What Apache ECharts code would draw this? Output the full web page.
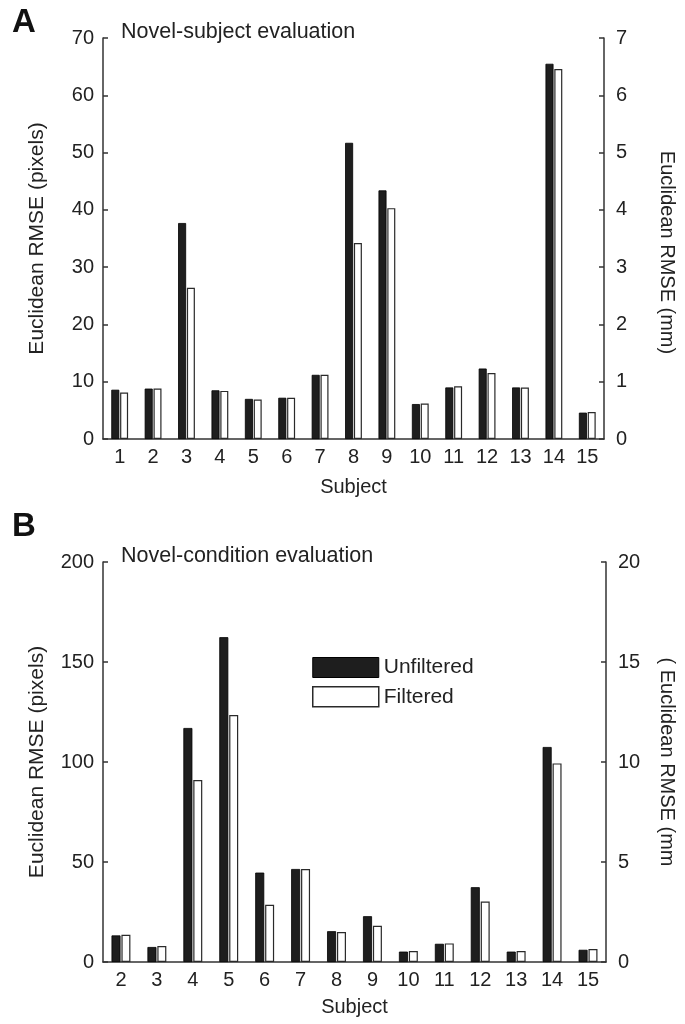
<!DOCTYPE html>
<html>
<head>
<meta charset="utf-8">
<script src="https://cdn.jsdelivr.net/npm/echarts@6/dist/echarts.min.js"></script>
<style>
html,body{margin:0;padding:0;background:#fff;}
#chart{width:685px;height:1024px;}
</style>
</head>
<body>
<div id="chart"></div>
<script>
// ---- Panel A: novel-subject evaluation ----
var aSubjects = ['1','2','3','4','5','6','7','8','9','10','11','12','13','14','15'];
var aUnfiltered = [8.6, 8.8, 37.7, 8.5, 7.0, 7.2, 11.2, 51.7, 43.4, 6.1, 9.0, 12.3, 9.0, 65.5, 4.6];
var aFiltered   = [8.1, 8.8, 26.4, 8.4, 6.9, 7.2, 11.2, 34.2, 40.3, 6.2, 9.2, 11.5, 9.0, 64.6, 4.7];
var aLeftTicks  = [0, 10, 20, 30, 40, 50, 60, 70];
var aRightTicks = [0, 1, 2, 3, 4, 5, 6, 7];

// ---- Panel B: novel-condition evaluation ----
var bSubjects = ['2','3','4','5','6','7','8','9','10','11','12','13','14','15'];
var bUnfiltered = [13.3, 7.5, 117, 162.4, 44.7, 46.5, 15.4, 22.9, 5.2, 9.1, 37.4, 5.2, 107.5, 6.1];
var bFiltered   = [13.6, 8.0, 91.0, 123.5, 28.6, 46.5, 15.0, 18.1, 5.5, 9.3, 30.2, 5.5, 99.3, 6.5];
var bLeftTicks  = [0, 50, 100, 150, 200];
var bRightTicks = [0, 5, 10, 15, 20];

var FONT = '"Liberation Sans", Arial, sans-serif';
var TXT = '#222';

function yAx(grid, ticks, pos, name, gap, extra) {
  var o = {
    type: 'value', gridIndex: grid, position: pos,
    min: ticks[0], max: ticks[ticks.length - 1], interval: ticks[1] - ticks[0],
    name: name, nameLocation: 'middle', nameGap: gap,
    nameRotate: pos === 'left' ? 90 : -90,
    nameTextStyle: { fontFamily: FONT, fontSize: 21, color: TXT },
    axisLine: { show: true, lineStyle: { color: '#333', width: 1.5 } },
    axisTick: { show: true, inside: true, length: 5, lineStyle: { color: '#333', width: 1.5 } },
    axisLabel: { fontFamily: FONT, fontSize: 20, color: TXT, margin: pos === 'left' ? 9 : 12 },
    splitLine: { show: false }
  };
  if (extra) { for (var k in extra) o[k] = extra[k]; }
  return o;
}

function xAx(grid, cats, gap) {
  return {
    type: 'category', gridIndex: grid, data: cats,
    name: 'Subject', nameLocation: 'middle', nameGap: gap,
    nameTextStyle: { fontFamily: FONT, fontSize: 20, color: TXT },
    axisLine: { show: true, lineStyle: { color: '#333', width: 1.5 } },
    axisTick: { show: false },
    axisLabel: { fontFamily: FONT, fontSize: 20, color: TXT, margin: 8, interval: 0 }
  };
}

var blackStyle = { color: '#1e1e1e', borderColor: '#000', borderWidth: 0.8 };
var whiteStyle = { color: '#ffffff', borderColor: '#2a2a2a', borderWidth: 1.2 };

var chart = echarts.init(document.getElementById('chart'), null, { renderer: 'canvas' });
chart.setOption({
  animation: false,
  backgroundColor: '#fff',
  title: [
    { text: 'A', left: 12, top: 6, padding: 0, textStyle: { fontFamily: FONT, fontSize: 33, fontWeight: 'bold', color: '#111' } },
    { text: 'Novel-subject evaluation', left: 121, top: 21, padding: 0, textStyle: { fontFamily: FONT, fontSize: 21.5, fontWeight: 'normal', color: TXT } },
    { text: 'B', left: 12, top: 510, padding: 0, textStyle: { fontFamily: FONT, fontSize: 33, fontWeight: 'bold', color: '#111' } },
    { text: 'Novel-condition evaluation', left: 121, top: 545, padding: 0, textStyle: { fontFamily: FONT, fontSize: 21.5, fontWeight: 'normal', color: TXT } }
  ],
  legend: {
    orient: 'vertical', left: 312, top: 657, padding: 0, itemWidth: 66, itemHeight: 20, itemGap: 8,
    icon: 'rect',
    textStyle: { fontFamily: FONT, fontSize: 21, color: TXT },
    data: [
      { name: 'Unfiltered', itemStyle: { color: '#1e1e1e', borderColor: '#000', borderWidth: 1 } },
      { name: 'Filtered', itemStyle: { color: '#fff', borderColor: '#2a2a2a', borderWidth: 1.5 } }
    ]
  },
  grid: [
    { left: 103, right: 79, top: 38, height: 401, containLabel: false },
    { left: 103, right: 76, top: 562, height: 400, containLabel: false }
  ],
  xAxis: [ xAx(0, aSubjects, 38), xAx(1, bSubjects, 35) ],
  yAxis: [
    yAx(0, aLeftTicks, 'left', 'Euclidean RMSE (pixels)', 55),
    yAx(0, aRightTicks, 'right', 'Euclidean RMSE (mm)', 53,
        { nameTextStyle: { fontFamily: FONT, fontSize: 20, color: TXT, padding: [0, 0, 0, 28] } }),
    yAx(1, bLeftTicks, 'left', 'Euclidean RMSE (pixels)', 55),
    yAx(1, bRightTicks, 'right', '( Euclidean RMSE (mm', 51,
        { nameTextStyle: { fontFamily: FONT, fontSize: 20, color: TXT } })
  ],
  series: [
    { name: 'Unfiltered', type: 'bar', xAxisIndex: 0, yAxisIndex: 0, data: aUnfiltered, barWidth: 8, barGap: '10%', itemStyle: blackStyle },
    { name: 'Filtered', type: 'bar', xAxisIndex: 0, yAxisIndex: 0, data: aFiltered, barWidth: 8, barGap: '10%', itemStyle: whiteStyle },
    { name: 'Unfiltered', type: 'bar', xAxisIndex: 1, yAxisIndex: 2, data: bUnfiltered, barWidth: 9, barGap: '10%', itemStyle: blackStyle },
    { name: 'Filtered', type: 'bar', xAxisIndex: 1, yAxisIndex: 2, data: bFiltered, barWidth: 9, barGap: '10%', itemStyle: whiteStyle }
  ]
});
</script>
</body>
</html>
